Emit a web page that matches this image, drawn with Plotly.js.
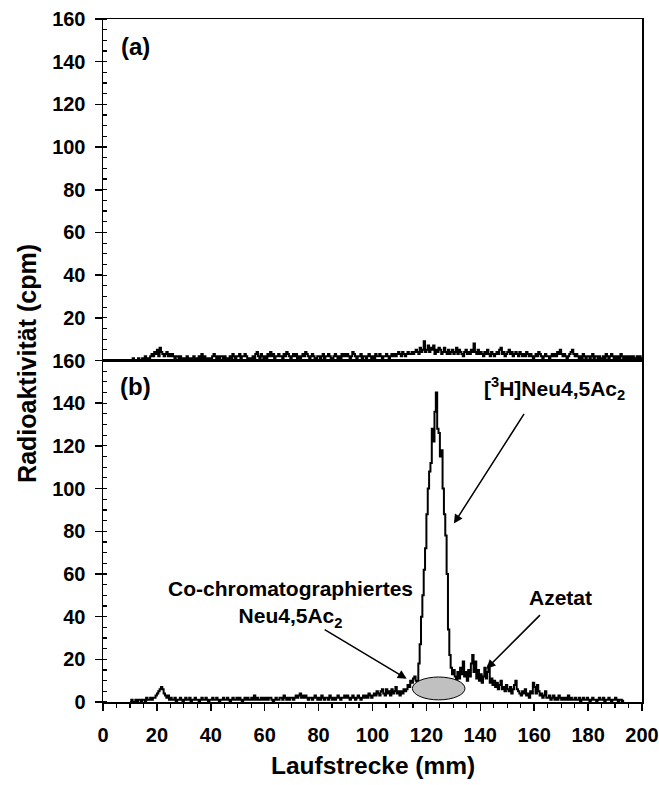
<!DOCTYPE html>
<html>
<head>
<meta charset="utf-8">
<script src="https://cdn.plot.ly/plotly-3.0.1.min.js"></script>
<style>html,body{margin:0;padding:0;background:#fff;}#chart{width:659px;height:785px;}</style>
</head>
<body>
<div id="chart"></div>
<script>
// ---- data ----
// Panel (a): Laufstrecke from 10 mm to 200 mm in 0.5 mm steps
const startA = 10, stepA = 0.5;
const cpmA = [
 0,0,1,0,0,0,1,0,0,1,
 0,2,1,0,1,2,3,2,4,3,
 5,2,6,4,3,2,3,4,2,3,
 2,3,2,1,2,2,1,2,1,1,
 0,1,2,1,0,1,1,2,1,0,
 1,2,1,3,1,2,1,1,0,1,
 1,2,3,2,1,2,1,2,2,1,
 2,1,0,1,2,1,3,2,1,2,
 2,3,1,2,2,3,2,1,0,1,
 1,2,1,3,4,2,1,3,2,1,
 2,1,3,2,4,2,3,1,2,2,
 3,2,2,1,3,2,4,3,2,1,
 2,3,2,3,1,2,1,2,3,2,
 4,3,2,1,2,3,2,1,1,2,
 2,1,2,3,1,2,2,3,2,1,
 1,2,3,2,1,2,1,3,2,3,
 2,3,2,1,2,4,3,2,1,2,
 2,3,1,2,2,1,2,3,2,1,
 2,1,3,2,2,3,2,1,2,2,
 3,2,1,2,3,2,3,2,3,4,
 3,2,4,3,2,3,4,3,3,4,
 3,4,5,4,3,6,4,5,9,4,
 5,7,4,6,5,7,3,5,4,6,
 5,3,4,6,4,3,5,3,4,5,
 3,4,6,3,5,4,3,2,4,5,
 3,4,3,5,4,8,4,3,5,3,
 4,3,2,4,3,5,3,2,4,3,
 2,3,4,3,5,6,3,4,2,3,
 4,5,3,4,2,3,4,3,2,4,
 3,2,3,2,4,3,2,3,2,1,
 2,3,2,4,3,2,1,2,3,2,
 2,1,2,3,2,3,2,4,3,5,
 3,2,3,2,1,2,3,4,5,3,
 2,3,2,1,2,1,3,2,1,2,
 2,1,2,3,1,2,2,1,2,1,
 1,2,1,3,2,1,2,3,2,1,
 2,1,2,1,3,2,1,2,1,2,
 1,2,1,2,1,1,2,1,2,1,
 1
];
// Panel (b): Laufstrecke from 10 mm to 193 mm in 0.5 mm steps
const startB = 10, stepB = 0.5;
const cpmB = [
 0,1,0,0,1,0,1,1,0,1,
 1,0,2,1,1,2,1,2,2,3,
 4,5,6,7,6,4,3,2,3,1,
 2,1,1,2,0,1,1,2,1,0,
 1,2,1,1,2,0,1,1,2,1,
 1,0,1,2,1,1,2,1,0,1,
 1,2,1,1,2,1,0,1,1,2,
 1,1,2,1,0,1,2,1,1,2,
 1,2,1,0,1,2,1,2,1,1,
 2,1,3,1,2,1,1,2,1,2,
 1,2,1,2,2,1,0,1,2,1,
 1,2,2,1,3,2,1,2,1,2,
 2,1,2,3,2,3,4,2,3,2,
 3,2,1,2,2,1,2,3,2,1,
 2,1,3,2,1,2,2,1,3,2,
 1,2,1,2,3,2,1,2,2,3,
 2,3,2,1,2,3,2,1,2,3,
 2,1,2,3,2,3,2,4,3,2,
 3,4,3,5,4,3,5,6,4,3,
 6,4,5,3,6,4,5,7,4,5,
 3,5,4,6,5,6,8,7,10,9,
 11,12,10,9,18,27,40,50,62,72,
 88,100,108,112,128,122,136,145,128,126,
 115,118,100,88,78,60,34,22,16,13,
 15,12,10,14,11,16,13,19,12,14,
 10,15,12,18,22,14,19,11,15,10,
 13,9,12,16,11,14,17,9,11,8,
 10,7,9,6,8,10,6,7,5,8,
 6,5,7,4,6,8,10,6,5,4,
 3,5,4,6,3,4,2,5,4,9,
 7,4,8,5,3,4,2,3,5,2,
 2,3,1,2,3,1,2,1,3,2,
 1,2,1,2,1,3,1,2,1,1,
 2,1,1,2,0,1,2,1,1,2,
 1,0,1,2,1,1,0,1,2,1,
 1,2,0,1,1,2,1,0,1,1,
 2,1,0,1,1,0,1
];
const xA = cpmA.map((_, i) => startA + i * stepA);
const xB = cpmB.map((_, i) => startB + i * stepB);

const yTicksTop = [20,40,60,80,100,120,140,160];
const yTicksBottom = [0,20,40,60,80,100,120,140,160];
const xTicks = [0,20,40,60,80,100,120,140,160,180,200];

// ---- styling ----
const FAM = 'Liberation Sans, Arial, sans-serif';
const tickFont = {family: FAM, size: 20, color: '#000', weight: 700};
const txtFont = {family: FAM, size: 21, color: '#000', weight: 700};

const traces = [
  {x: xA, y: cpmA, xaxis: 'x2', yaxis: 'y2', type: 'scatter', mode: 'lines',
   line: {color: '#000', width: 2, shape: 'hv'}, hoverinfo: 'skip'},
  {x: xB, y: cpmB, xaxis: 'x', yaxis: 'y', type: 'scatter', mode: 'lines',
   line: {color: '#000', width: 2, shape: 'hv'}, hoverinfo: 'skip'}
];

const axisLine = {showline: true, linecolor: '#000', linewidth: 1.5, mirror: true,
  showgrid: false, zeroline: false};
const minorY = {tickmode: 'linear', tick0: 0, dtick: 5, ticks: 'inside', ticklen: 4, tickwidth: 1.2, tickcolor: '#000'};

const layout = {
  width: 659, height: 785,
  margin: {l: 103, r: 17, t: 19, b: 83},
  paper_bgcolor: '#fff', plot_bgcolor: '#fff',
  showlegend: false,
  xaxis: Object.assign({}, axisLine, {
    domain: [0, 1], anchor: 'y', range: [0, 200],
    tickmode: 'array', tickvals: xTicks, ticks: 'outside', ticklen: 7, tickwidth: 1.5, tickcolor: '#000',
    tickfont: tickFont, ticklabelstandoff: 7, ticklabeloverflow: 'allow',
    minor: {tickmode: 'linear', tick0: 0, dtick: 5, ticks: 'outside', ticklen: 4, tickwidth: 1.2, tickcolor: '#000'}
  }),
  yaxis: Object.assign({}, axisLine, {
    domain: [0, 0.5], anchor: 'x', range: [0, 160],
    tickmode: 'array', tickvals: yTicksBottom,
    ticks: 'outside', ticklen: 7, tickwidth: 1.5, tickcolor: '#000',
    tickfont: tickFont, ticklabelstandoff: 5,
    minor: minorY
  }),
  xaxis2: Object.assign({}, axisLine, {
    domain: [0, 1], anchor: 'y2', range: [0, 200],
    showticklabels: false, ticks: ''
  }),
  yaxis2: Object.assign({}, axisLine, {
    domain: [0.5, 1], anchor: 'x2', range: [0, 160],
    tickmode: 'array', tickvals: yTicksTop,
    ticks: 'outside', ticklen: 7, tickwidth: 1.5, tickcolor: '#000',
    tickfont: tickFont, ticklabelstandoff: 5,
    minor: minorY
  }),
  shapes: [
    {type: 'circle', xref: 'x', yref: 'y', x0: 114.8, x1: 134.3, y0: 1, y1: 11.7,
     fillcolor: '#c0c0c0', line: {color: '#000', width: 1}, layer: 'above'}
  ],
  annotations: [
    {xref: 'x2', yref: 'y2', x: 12.2, y: 147.3, text: '(a)', showarrow: false,
     font: {family: FAM, size: 24, color: '#000', weight: 700}, xanchor: 'center', yanchor: 'middle'},
    {xref: 'x', yref: 'y', x: 12.2, y: 147.7, text: '(b)', showarrow: false,
     font: {family: FAM, size: 24, color: '#000', weight: 700}, xanchor: 'center', yanchor: 'middle'},
    // labels
    {xref: 'x', yref: 'y', x: 167.7, y: 147, text: '[<sup>3</sup>H]Neu4,5Ac<sub>2</sub>', showarrow: false,
     font: txtFont, xanchor: 'center', yanchor: 'middle'},
    {xref: 'x', yref: 'y', x: 69.5, y: 46, text: 'Co-chromatographiertes<br>Neu4,5Ac<sub>2</sub>', showarrow: false,
     font: txtFont, xanchor: 'center', yanchor: 'middle', align: 'center'},
    {xref: 'x', yref: 'y', x: 169.6, y: 49, text: 'Azetat', showarrow: false,
     font: txtFont, xanchor: 'center', yanchor: 'middle'},
    // arrows
    {xref: 'x', yref: 'y', axref: 'x', ayref: 'y', x: 130.2, y: 83.6, ax: 156.6, ay: 135.7,
     text: '', showarrow: true, arrowhead: 2, arrowsize: 1.2, arrowwidth: 1.5, arrowcolor: '#000', standoff: 0},
    {xref: 'x', yref: 'y', axref: 'x', ayref: 'y', x: 112.7, y: 10.9, ax: 81.7, ay: 34.3,
     text: '', showarrow: true, arrowhead: 2, arrowsize: 1.2, arrowwidth: 1.5, arrowcolor: '#000', standoff: 0},
    {xref: 'x', yref: 'y', axref: 'x', ayref: 'y', x: 142.3, y: 15.6, ax: 162.7, ay: 41.4,
     text: '', showarrow: true, arrowhead: 2, arrowsize: 1.2, arrowwidth: 1.5, arrowcolor: '#000', standoff: 0},
    // axis titles
    {xref: 'paper', yref: 'paper', x: 0.5, y: -0.093, text: 'Laufstrecke (mm)', showarrow: false,
     font: {family: FAM, size: 24.5, color: '#000', weight: 700}, xanchor: 'center', yanchor: 'middle'},
    {xref: 'paper', yref: 'paper', x: -0.141, y: 0.495, text: 'Radioaktivität (cpm)', showarrow: false,
     textangle: -90, font: {family: FAM, size: 25, color: '#000', weight: 700}, xanchor: 'center', yanchor: 'middle'}
  ]
};

Plotly.newPlot('chart', traces, layout, {staticPlot: true, displayModeBar: false});
</script>
</body>
</html>
